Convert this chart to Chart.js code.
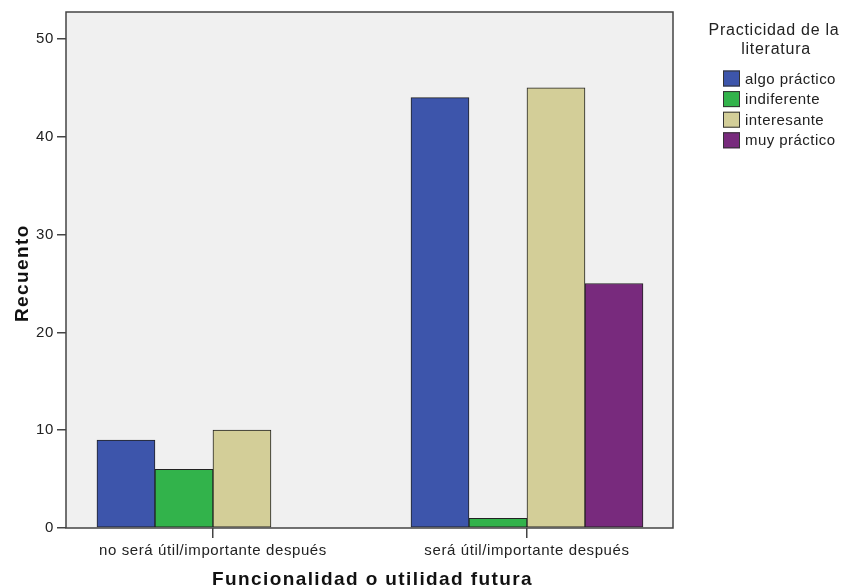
<!DOCTYPE html>
<html>
<head>
<meta charset="utf-8">
<script src="https://cdn.jsdelivr.net/npm/chart.js@4/dist/chart.umd.min.js"></script>
<style>
  html, body { margin: 0; padding: 0; background: #fff; }
  #wrap { width: 854px; height: 586px; }
</style>
</head>
<body>
<div id="wrap"><canvas id="chart" width="854" height="586"></canvas></div>
<script>
// categories and counts
const categories = ['no será útil/importante después', 'será útil/importante después'];
const seriesNames = ['algo práctico', 'indiferente', 'interesante', 'muy práctico'];
const algoPractico = [9, 44];
const indiferente = [6, 1];
const interesante = [10, 45];
const muyPractico = [null, 25];
const yTicks = [0, 10, 20, 30, 40, 50];

const colors = ['#3d55ab', '#32b34b', '#d3ce98', '#782a7d'];
const FONT = '"Liberation Sans", Arial, sans-serif';

function toPoints(values) {
    return values.map((v, i) => ({ x: i, y: v }));
}

const seriesValues = [algoPractico, indiferente, interesante, muyPractico];
const datasets = seriesNames.map((name, i) => ({
    label: name,
    data: toPoints(seriesValues[i]),
    backgroundColor: colors[i],
    borderColor: '#222',
    borderWidth: 1,
    borderSkipped: false,
    barThickness: 58
}));

// plot background + frame, wider letter spacing like the original render
const framePlugin = {
    id: 'frame',
    beforeDraw(chart) {
        const a = chart.chartArea;
        const ctx = chart.ctx;
        ctx.letterSpacing = '0.6px';
        ctx.save();
        ctx.fillStyle = '#f0f0f0';
        ctx.fillRect(a.left, a.top, a.right - a.left, a.bottom - a.top);
        ctx.restore();
    },
    afterDatasetsDraw(chart) {
        const a = chart.chartArea;
        const ctx = chart.ctx;
        ctx.save();
        ctx.strokeStyle = '#444';
        ctx.lineWidth = 1.5;
        ctx.strokeRect(a.left, a.top, a.right - a.left, a.bottom - a.top);
        ctx.restore();
    }
};

// axis titles and the legend on the right
const textPlugin = {
    id: 'texts',
    afterDraw(chart) {
        const ctx = chart.ctx;
        const a = chart.chartArea;
        ctx.save();
        ctx.fillStyle = '#111';
        ctx.font = 'bold 19px ' + FONT;
        ctx.letterSpacing = '1.4px';
        ctx.textAlign = 'center';
        ctx.textBaseline = 'alphabetic';
        ctx.fillText('Funcionalidad o utilidad futura', (a.left + a.right) / 2 + 3, 585);

        ctx.save();
        ctx.translate(28, 322);
        ctx.rotate(-Math.PI / 2);
        ctx.textAlign = 'left';
        ctx.fillText('Recuento', 0, 0);
        ctx.restore();

        ctx.fillStyle = '#222';
        ctx.font = '16px ' + FONT;
        ctx.letterSpacing = '0.75px';
        ctx.textAlign = 'center';
        ctx.textBaseline = 'middle';
        ctx.fillText('Practicidad de la', 774, 31);
        ctx.fillText('literatura', 776, 50);

        ctx.textAlign = 'left';
        ctx.font = '15px ' + FONT;
        ctx.letterSpacing = '0.45px';
        chart.data.datasets.forEach((ds, i) => {
            const y = 78.5 + i * 20.6;
            ctx.fillStyle = ds.backgroundColor;
            ctx.fillRect(723, y - 8, 17, 16);
            ctx.strokeStyle = '#333';
            ctx.lineWidth = 1;
            ctx.strokeRect(723.5, y - 7.5, 16, 15);
            ctx.fillStyle = '#222';
            ctx.fillText(ds.label, 745, y + 1);
        });
        ctx.restore();
    }
};

new Chart(document.getElementById('chart'), {
    type: 'bar',
    data: { datasets: datasets },
    plugins: [framePlugin, textPlugin],
    options: {
        responsive: false,
        animation: false,
        layout: { padding: { top: 11, right: 181, left: 0, bottom: 0 } },
        plugins: {
            legend: { display: false },
            tooltip: { enabled: false }
        },
        scales: {
            x: {
                type: 'linear',
                offset: false,
                min: -0.468,
                max: 1.465,
                afterBuildTicks: axis => { axis.ticks = categories.map((c, i) => ({ value: i })); },
                afterFit: axis => { axis.height = 58; },
                grid: { offset: false, drawOnChartArea: false, tickLength: 10, color: '#444', lineWidth: 1.5 },
                border: { display: false },
                ticks: {
                    color: '#222',
                    font: { family: FONT, size: 15 },
                    padding: 4,
                    maxRotation: 0,
                    autoSkip: false,
                    callback: v => categories[v]
                }
            },
            y: {
                min: 0,
                max: 52.76,
                afterBuildTicks: axis => { axis.ticks = yTicks.map(v => ({ value: v })); },
                afterFit: axis => { axis.width = 66; },
                grid: { drawOnChartArea: false, tickLength: 9, color: '#444', lineWidth: 1.5 },
                border: { display: false },
                ticks: {
                    color: '#222',
                    font: { family: FONT, size: 15 },
                    padding: 3
                }
            }
        }
    }
});
</script>
</body>
</html>
